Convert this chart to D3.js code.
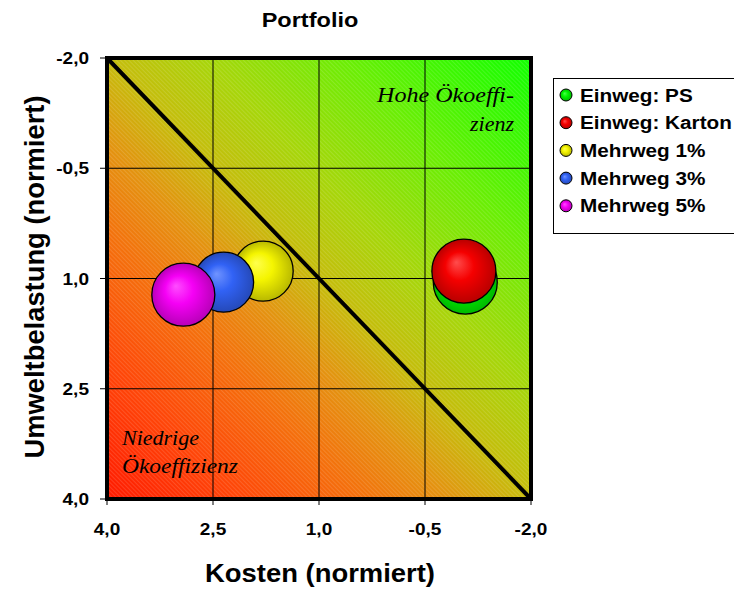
<!DOCTYPE html>
<html><head><meta charset="utf-8">
<script src="https://cdn.jsdelivr.net/npm/d3@7"></script>
<style>body{margin:0;background:#fff;}svg{display:block;}</style>
</head><body>
<script>
// ---- data ----
const seriesNames = ["Einweg: PS", "Einweg: Karton", "Mehrweg 1%", "Mehrweg 3%", "Mehrweg 5%"];
const kosten = [-1.07, -1.05, 1.79, 2.35, 2.92];
const umwelt = [1.05, 0.90, 0.90, 1.05, 1.22];
const sizes = [1.0, 1.0, 0.88, 0.88, 0.97];
const seriesColors = ["#00ff00", "#ff0000", "#ffff00", "#3366ff", "#ff00ff"];
const xTickValues = [4.0, 2.5, 1.0, -0.5, -2.0];
const yTickValues = [-2.0, -0.5, 1.0, 2.5, 4.0];
const diagonal = [[4.0, -2.0], [-2.0, 4.0]];

const W = 734, H = 589;
const SX = 1.12; // horizontal text stretch
const svg = d3.select("body").append("svg").attr("width", W).attr("height", H);
const defs = svg.append("defs");

const x = d3.scaleLinear().domain([4, -2]).range([107, 531]);
const y = d3.scaleLinear().domain([-2, 4]).range([58, 499]);
const r = d3.scaleSqrt().domain([0, 1]).range([0, 32]);
const loc = d3.formatLocale({decimal: ",", thousands: ".", grouping: [3], currency: ["", "€"], minus: "-"});
const fmt = loc.format(".1f");

// background gradient
const bg = defs.append("linearGradient").attr("id", "bg")
  .attr("x1", 0).attr("y1", 1).attr("x2", 1).attr("y2", 0);
[[0, "#ff1a00"], [0.15, "#ff4408"], [0.3, "#f4700c"], [0.4, "#e49210"], [0.5, "#c6bc0c"], [0.62, "#a6d60a"], [0.78, "#6aee04"], [1, "#10ff00"]]
  .forEach(([o, c]) => bg.append("stop").attr("offset", o).attr("stop-color", c));
const pat = defs.append("pattern").attr("id", "hatch").attr("patternUnits", "userSpaceOnUse")
  .attr("width", 3).attr("height", 3).attr("patternTransform", "rotate(-45)");
pat.append("rect").attr("width", 1).attr("height", 3).attr("fill", "#fff").attr("opacity", 0.13);

const [x0, x1] = x.range(), [y0, y1] = y.range();
svg.append("rect").attr("x", x0).attr("y", y0).attr("width", x1 - x0).attr("height", y1 - y0).attr("fill", "url(#bg)");
svg.append("rect").attr("x", x0).attr("y", y0).attr("width", x1 - x0).attr("height", y1 - y0).attr("fill", "url(#hatch)");

// gridlines
svg.append("g").selectAll("line").data(xTickValues.slice(1, -1)).join("line")
  .attr("x1", d => x(d)).attr("x2", d => x(d)).attr("y1", y0).attr("y2", y1)
  .attr("stroke", "#000").attr("stroke-width", 1);
svg.append("g").selectAll("line").data(yTickValues.slice(1, -1)).join("line")
  .attr("y1", d => y(d)).attr("y2", d => y(d)).attr("x1", x0).attr("x2", x1)
  .attr("stroke", "#000").attr("stroke-width", 1);

function stext(g, tx, ty, txt, opts) {
  const t = g.append("text").attr("transform", `translate(${tx},${ty}) scale(${opts.sx || 1},1)`)
    .text(txt).attr("font-family", opts.family || "'Liberation Sans', Arial, sans-serif")
    .attr("font-size", opts.size).attr("font-weight", opts.weight || "normal")
    .attr("font-style", opts.style || "normal").attr("text-anchor", opts.anchor || "start")
    .attr("fill", "#000");
  if (opts.len) t.attr("textLength", opts.len).attr("lengthAdjust", "spacingAndGlyphs");
  return t;
}
const serif = "'Liberation Serif', 'Times New Roman', serif";
stext(svg, 377, 102, "Hohe Ökoeffi-", {family: serif, size: 22, style: "italic", len: 137});
stext(svg, 514, 131, "zienz", {family: serif, size: 22, style: "italic", anchor: "end"});
stext(svg, 122, 445, "Niedrige", {family: serif, size: 22, style: "italic"});
stext(svg, 122, 473, "Ökoeffizienz", {family: serif, size: 22, style: "italic", len: 116});

// diagonal line
svg.append("path").datum(diagonal)
  .attr("d", d3.line().x(d => x(d[0])).y(d => y(d[1])))
  .attr("stroke", "#000").attr("stroke-width", 4).attr("fill", "none");

// bubble gradients
seriesColors.forEach((c, i) => {
  const g = defs.append("radialGradient").attr("id", "bub" + i)
    .attr("cx", "50%").attr("cy", "50%").attr("r", "50%").attr("fx", "38%").attr("fy", "36%");
  g.append("stop").attr("offset", 0).attr("stop-color", d3.interpolateRgb(c, "#ffffff")(0.3));
  g.append("stop").attr("offset", 0.45).attr("stop-color", d3.interpolateRgb(c, "#000")(0.04));
  g.append("stop").attr("offset", 1).attr("stop-color", d3.interpolateRgb(c, "#000000")(0.28));
});

// bubbles
svg.append("g").selectAll("circle").data(seriesNames.map((n, i) => i)).join("circle")
  .attr("cx", i => x(kosten[i])).attr("cy", i => y(umwelt[i])).attr("r", i => r(sizes[i]))
  .attr("fill", i => `url(#bub${i})`).attr("stroke", "#000").attr("stroke-width", 1.3);

// frame
svg.append("rect").attr("x", x0).attr("y", y0).attr("width", x1 - x0).attr("height", y1 - y0)
  .attr("fill", "none").attr("stroke", "#000").attr("stroke-width", 4);

// axes ticks
svg.append("g").selectAll("line").data(xTickValues).join("line")
  .attr("x1", d => x(d)).attr("x2", d => x(d)).attr("y1", y1).attr("y2", y1 + 6)
  .attr("stroke", "#000").attr("stroke-width", 1);
svg.append("g").selectAll("line").data(yTickValues).join("line")
  .attr("y1", d => y(d)).attr("y2", d => y(d)).attr("x1", x0 - 7).attr("x2", x0)
  .attr("stroke", "#000").attr("stroke-width", 1);
const tg = svg.append("g");
xTickValues.forEach(v => stext(tg, x(v), 535, fmt(v), {size: 17, weight: "bold", anchor: "middle", sx: SX}));
yTickValues.forEach(v => stext(tg, 89, y(v) + 6, fmt(v), {size: 17, weight: "bold", anchor: "end", sx: SX}));

// titles
stext(svg, 310, 27, "Portfolio", {size: 21, weight: "bold", anchor: "middle", sx: SX});
stext(svg, 320, 582, "Kosten (normiert)", {size: 25, weight: "bold", anchor: "middle", len: 230});
svg.append("text").attr("transform", "translate(44,277) rotate(-90)")
  .attr("text-anchor", "middle").attr("font-family", "'Liberation Sans', Arial, sans-serif")
  .attr("font-size", 27).attr("font-weight", "bold")
  .attr("textLength", 363).attr("lengthAdjust", "spacingAndGlyphs")
  .text("Umweltbelastung (normiert)");

// legend
const lg = svg.append("g");
lg.append("rect").attr("x", 553.5).attr("y", 78.5).attr("width", 190).attr("height", 155)
  .attr("fill", "#fff").attr("stroke", "#000").attr("stroke-width", 1);
seriesNames.forEach((n, i) => {
  const cy = 95 + i * 27.7;
  lg.append("circle").attr("cx", 566).attr("cy", cy).attr("r", 6)
    .attr("fill", `url(#bub${i})`).attr("stroke", "#000").attr("stroke-width", 1);
  stext(lg, 580, cy + 6.5, n, {size: 18.5, weight: "bold", sx: 1.12});
});
</script>
</body></html>
